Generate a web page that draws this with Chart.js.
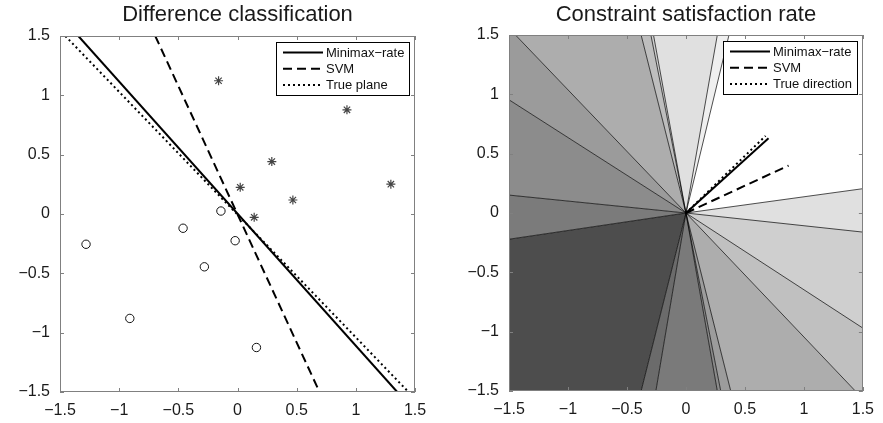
<!DOCTYPE html>
<html>
<head>
<meta charset="utf-8">
<script src="https://cdn.jsdelivr.net/npm/chart.js@4"></script>
<style>
body { margin: 0; background: #fff; }
#wrap { position: relative; width: 883px; height: 423px; }
canvas { position: absolute; top: 0; }
</style>
</head>
<body>
<div id="wrap">
<canvas id="diffChart" width="441" height="423" style="left:0px"></canvas>
<canvas id="rateChart" width="442" height="423" style="left:441px"></canvas>
</div>
<script>
// ---- left panel: difference vectors and separating planes
var circleX = [-1.28, -0.91, -0.46, -0.28, -0.14, -0.02, 0.16];
var circleY = [-0.255, -0.88, -0.12, -0.445, 0.025, -0.225, -1.125];
var starX = [-0.16, 0.925, 0.29, 0.023, 0.468, 0.141, 1.296];
var starY = [1.123, 0.878, 0.442, 0.225, 0.118, -0.028, 0.251];
var minimaxPlaneX = [-1.345, 1.35];
var minimaxPlaneY = [1.5, -1.5];
var svmPlaneX = [-0.695, 0.693];
var svmPlaneY = [1.5, -1.5];
var truePlaneX = [-1.455, 1.445];
var truePlaneY = [1.5, -1.5];

// ---- right panel: direction vectors and rate regions
var minimaxDirX = [0, 0.70];
var minimaxDirY = [0, 0.63];
var svmDirX = [0, 0.87];
var svmDirY = [0, 0.40];
var trueDirX = [0, 0.675];
var trueDirY = [0, 0.65];
// region boundaries (where each ray leaves the box), counter-clockwise
var rayX = [1.5, 0.365, 0.266, -0.275, -0.297, -0.38, -1.445, -1.5, -1.5, -1.5, -0.38, -0.255, 0.266, 0.295, 0.38, 1.436, 1.5, 1.5];
var rayY = [0.205, 1.5, 1.5, 1.5, 1.5, 1.5, 1.5, 0.954, 0.151, -0.221, -1.5, -1.5, -1.5, -1.5, -1.5, -1.5, -0.97, -0.161];
// grey level of the region between ray i and ray i+1
var regionGrey = [255, 239, 224, 207, 190, 173, 155, 140, 123, 77, 107, 122, 139, 156, 173, 192, 207, 224];

var tickValues = [-1.5, -1, -0.5, 0, 0.5, 1, 1.5];

Chart.defaults.font.family = '"Liberation Sans", Arial, Helvetica, sans-serif';
Chart.defaults.font.size = 16;
Chart.defaults.color = '#1a1a1a';

function pts(xs, ys) {
    return xs.map(function(x, i) { return {x: x, y: ys[i]}; });
}

function fmtTick(v) {
    return v < 0 ? '\u2212' + String(-v) : String(v);
}

// MATLAB style box with inward ticks
var frame = {
    id: 'frame',
    afterDatasetsDraw: function(chart) {
        var ctx = chart.ctx, a = chart.chartArea;
        var sx = chart.scales.x, sy = chart.scales.y;
        ctx.save();
        ctx.strokeStyle = '#808080';
        ctx.lineWidth = 1;
        ctx.strokeRect(Math.round(a.left) + 0.5, Math.round(a.top) + 0.5,
            Math.round(a.right - a.left) - 1, Math.round(a.bottom - a.top) - 1);
        ctx.beginPath();
        tickValues.forEach(function(v) {
            var px = Math.round(sx.getPixelForValue(v)) + 0.5;
            ctx.moveTo(px, a.bottom); ctx.lineTo(px, a.bottom - 4);
            ctx.moveTo(px, a.top); ctx.lineTo(px, a.top + 4);
            var py = Math.round(sy.getPixelForValue(v)) + 0.5;
            ctx.moveTo(a.left, py); ctx.lineTo(a.left + 4, py);
            ctx.moveTo(a.right, py); ctx.lineTo(a.right - 4, py);
        });
        ctx.stroke();
        ctx.restore();
    }
};

var boxLegend = {
    id: 'boxLegend',
    afterDatasetsDraw: function(chart) {
        var ctx = chart.ctx, a = chart.chartArea;
        var items = chart.data.datasets.filter(function(d) { return d.inLegend; });
        ctx.save();
        ctx.font = '13px "Liberation Sans", Arial, sans-serif';
        var w = 0;
        items.forEach(function(d) { w = Math.max(w, ctx.measureText(d.label).width); });
        var boxW = Math.round(7 + 40 + 3 + w + 5), boxH = 53;
        var x0 = Math.round(a.right - 6 - boxW), y0 = Math.round(a.top + 6);
        ctx.fillStyle = '#fff';
        ctx.fillRect(x0, y0, boxW, boxH);
        ctx.strokeStyle = '#000';
        ctx.lineWidth = 1;
        ctx.strokeRect(x0 + 0.5, y0 + 0.5, boxW, boxH);
        items.forEach(function(d, i) {
            var y = y0 + 10.5 + i * 16.3;
            ctx.setLineDash(d.borderDash || []);
            ctx.lineWidth = d.borderWidth;
            ctx.strokeStyle = d.borderColor;
            ctx.beginPath();
            ctx.moveTo(x0 + 7, y);
            ctx.lineTo(x0 + 47, y);
            ctx.stroke();
            ctx.setLineDash([]);
            ctx.fillStyle = '#111';
            ctx.textAlign = 'left';
            ctx.textBaseline = 'middle';
            ctx.fillText(d.label, x0 + 50, y + 0.5);
        });
        ctx.restore();
    }
};

var panelTitle = {
    id: 'panelTitle',
    afterDraw: function(chart, args, opts) {
        var ctx = chart.ctx, a = chart.chartArea;
        ctx.save();
        ctx.font = '22px "Liberation Sans", Arial, sans-serif';
        ctx.fillStyle = '#1a1a1a';
        ctx.textAlign = 'center';
        ctx.textBaseline = 'alphabetic';
        ctx.fillText(opts.text, (a.left + a.right) / 2, 21);
        ctx.restore();
    }
};

function axes(yWidth, xHeight) {
    return {
        x: {
            type: 'linear', min: -1.5, max: 1.5,
            grid: { display: false, drawTicks: false }, border: { display: false },
            ticks: { stepSize: 0.5, padding: 9, maxRotation: 0, callback: fmtTick },
            afterFit: function(s) { s.height = xHeight; }
        },
        y: {
            type: 'linear', min: -1.5, max: 1.5,
            grid: { display: false, drawTicks: false }, border: { display: false },
            ticks: { stepSize: 0.5, padding: 10, callback: fmtTick },
            afterFit: function(s) { s.width = yWidth; }
        }
    };
}

function lineSet(label, xs, ys, dash, inLegend) {
    return {
        label: label, data: pts(xs, ys), showLine: true,
        borderColor: '#000', borderWidth: 2, borderDash: dash,
        pointRadius: 0, fill: false, inLegend: inLegend, order: 0
    };
}

// left chart
new Chart(document.getElementById('diffChart'), {
    type: 'scatter',
    data: {
        datasets: [
            lineSet('Minimax\u2212rate', minimaxPlaneX, minimaxPlaneY, [], true),
            lineSet('SVM', svmPlaneX, svmPlaneY, [9, 5], true),
            lineSet('True plane', truePlaneX, truePlaneY, [2, 3], true),
            {
                label: 'negative', data: pts(circleX, circleY),
                pointStyle: 'circle', pointRadius: 4.2,
                pointBackgroundColor: '#fff', pointBorderColor: '#111', pointBorderWidth: 1, order: 1
            },
            {
                label: 'positive', data: pts(starX, starY),
                pointStyle: 'star', pointRadius: 4.5,
                pointBorderColor: '#444', pointBorderWidth: 1.2, order: 1
            }
        ]
    },
    options: {
        responsive: false, devicePixelRatio: 1, animation: false, events: [],
        layout: { padding: { top: 36, right: 26, bottom: 0, left: 0 } },
        scales: axes(60, 31),
        plugins: {
            legend: { display: false }, tooltip: { enabled: false },
            panelTitle: { text: 'Difference classification' }
        }
    },
    plugins: [frame, boxLegend, panelTitle]
});

// right chart: rate regions built from the ray ends
var corners = [[1.5, 1.5], [-1.5, 1.5], [-1.5, -1.5], [1.5, -1.5]];
function ang(x, y) {
    var a = Math.atan2(y, x) * 180 / Math.PI;
    return a < 0 ? a + 360 : a;
}
var regionSets = [];
var raySets = [];
rayX.forEach(function(x0, i) {
    var j = (i + 1) % rayX.length;
    var a0 = ang(x0, rayY[i]), a1 = ang(rayX[j], rayY[j]);
    if (a1 < a0) a1 += 360;
    var poly = [{x: 0, y: 0}, {x: x0, y: rayY[i]}];
    [0, 360].forEach(function(off) {
        corners.forEach(function(c) {
            var ca = ang(c[0], c[1]) + off;
            if (ca > a0 && ca < a1) poly.push({x: c[0], y: c[1]});
        });
    });
    poly.push({x: rayX[j], y: rayY[j]});
    poly.push({x: 0, y: 0});
    var g = regionGrey[i];
    regionSets.push({
        label: 'region' + i, data: poly, showLine: true, fill: 'shape',
        backgroundColor: 'rgb(' + g + ',' + g + ',' + g + ')',
        borderColor: 'rgba(0,0,0,0)', borderWidth: 0, pointRadius: 0, order: 3
    });
    raySets.push({
        label: 'ray' + i, data: [{x: 0, y: 0}, {x: x0, y: rayY[i]}], showLine: true,
        borderColor: '#000', borderWidth: 0.7, pointRadius: 0, fill: false, order: 2
    });
});

new Chart(document.getElementById('rateChart'), {
    type: 'scatter',
    data: {
        datasets: [
            lineSet('Minimax\u2212rate', minimaxDirX, minimaxDirY, [], true),
            lineSet('SVM', svmDirX, svmDirY, [9, 5], true),
            lineSet('True direction', trueDirX, trueDirY, [2, 3], true)
        ].concat(raySets, regionSets)
    },
    options: {
        responsive: false, devicePixelRatio: 1, animation: false, events: [],
        layout: { padding: { top: 35, right: 19, bottom: 0, left: 0 } },
        scales: axes(68, 32),
        plugins: {
            legend: { display: false }, tooltip: { enabled: false },
            panelTitle: { text: 'Constraint satisfaction rate' }
        }
    },
    plugins: [frame, boxLegend, panelTitle]
});
</script>
</body>
</html>
